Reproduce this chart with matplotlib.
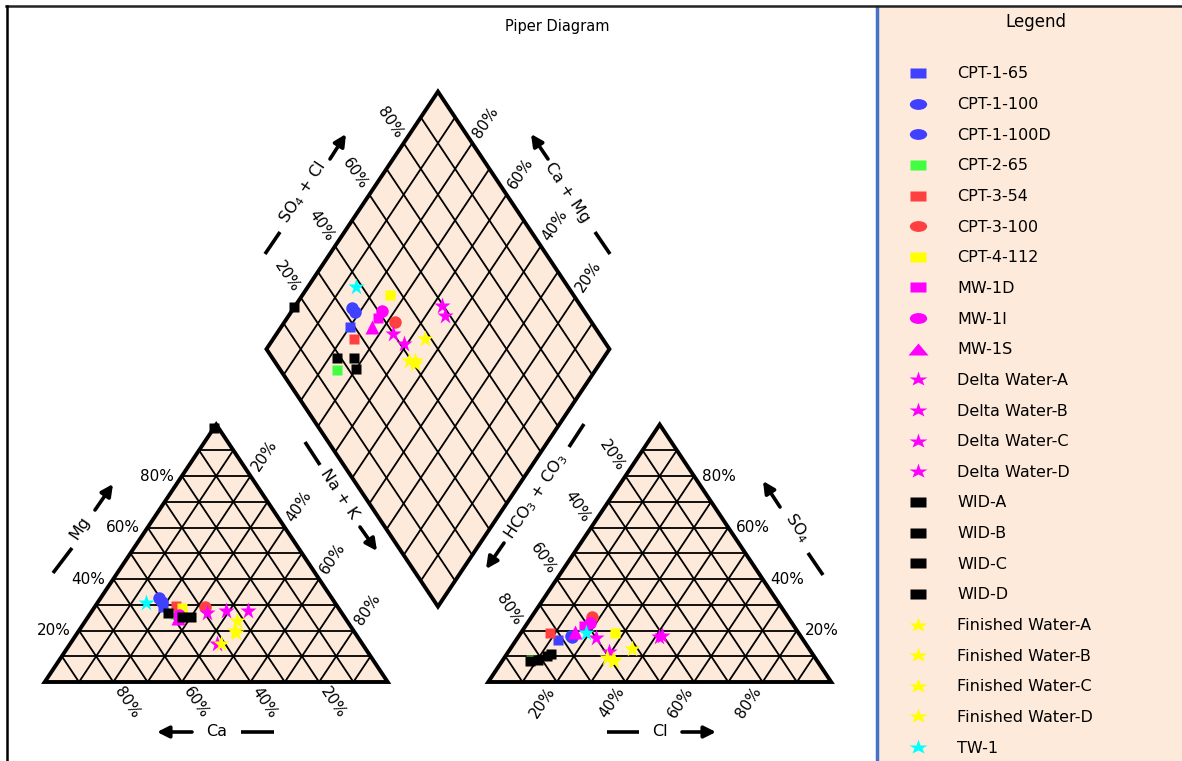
import numpy as np
import matplotlib
matplotlib.use("Agg")
import matplotlib.pyplot as plt
from matplotlib.markers import MarkerStyle
from matplotlib.transforms import Affine2D
from matplotlib.patches import Polygon, Rectangle

# ---- data (percent) ----
samples = ['CPT-1-65', 'CPT-1-100', 'CPT-1-100D', 'CPT-2-65', 'CPT-3-54',
           'CPT-3-100', 'CPT-4-112', 'MW-1D', 'MW-1I', 'MW-1S',
           'Delta Water-A', 'Delta Water-B', 'Delta Water-C', 'Delta Water-D',
           'WID-A', 'WID-B', 'WID-C', 'WID-D',
           'Finished Water-A', 'Finished Water-B', 'Finished Water-C',
           'Finished Water-D', 'TW-1']
colors = ['#4040FF', '#4040FF', '#4040FF', '#40FF40', '#FF4040', '#FF4040',
          '#FFFF00', '#FF00FF', '#FF00FF', '#FF00FF',
          '#FF00FF', '#FF00FF', '#FF00FF', '#FF00FF',
          '#000000', '#000000', '#000000', '#000000',
          '#FFFF00', '#FFFF00', '#FFFF00', '#FFFF00', '#00FFFF']
markers = ['s', 'o', 'o', 's', 's', 'o', 's', 's', 'o', '^',
           '*', '*', '*', '*', 's', 's', 's', 's', '*', '*', '*', '*', '*']

mg = [29.1, 32.5, 31.0, 26.5, 29.5, 29.1, 28.6, 24.7, 26.0, 25.0,
      26.7, 27.6, 14.6, 27.7, 98.6, 26.7, 25.2, 25.2, 23.7, 14.6, 19.8, 19.0, 30.8]
nak = [20.0, 17.0, 18.7, 24.7, 23.6, 32.2, 25.6, 26.7, 26.3, 26.5,
       34.0, 39.2, 43.0, 45.5, 0.0, 22.5, 30.0, 27.3, 44.3, 44.0, 45.6, 46.2, 14.0]
so4 = [16.3, 18.0, 17.5, 8.4, 19.1, 25.4, 18.9, 21.6, 22.8, 19.5,
       17.0, 11.8, 17.8, 17.5, 8.2, 8.5, 10.0, 10.7, 12.8, 9.2, 8.3, 8.6, 19.1]
cl = [12.3, 15.0, 15.7, 8.3, 8.4, 17.5, 27.6, 17.0, 18.3, 15.6,
      22.9, 29.2, 41.8, 41.0, 8.0, 10.4, 12.2, 13.0, 35.4, 30.0, 32.6, 32.0, 18.9]

ticks = [20, 40, 60, 80]

# ---- geometry ----
W, H = 1182, 761
SX, SY = 343.0, 297.3          # pixels per unit
OX, OY = 44.7, 682.0           # pixel position of origin
h = np.sqrt(3) / 2
g = 0.293
ANG = np.degrees(np.arctan2(h * SY, 0.5 * SX))
peach = '#FDEADA'


def cat_xy(m, n):
    return n + m / 2, h * m


def an_xy(s, c):
    return 1 + g + c + s / 2, h * s


def dia_xy(n, a):
    return 1 + g / 2 - 0.5 * (1 - n) + 0.5 * a, h * (g + 1 - n + a)


fig = plt.figure(figsize=(W / 100, H / 100), dpi=100)

# background axes in pixel units: frame, title, legend, axis names
bg = fig.add_axes([0, 0, 1, 1])
bg.set_xlim(0, W)
bg.set_ylim(H, 0)
bg.axis('off')
bg.add_patch(Rectangle((878, 7), W - 878, H - 7, facecolor=peach, edgecolor='none'))
bg.plot([877, 877], [7, H], color='#4472C4', lw=2.5)
bg.plot([6, W], [6, 6], color='#222222', lw=1.8)
bg.plot([7, 7], [6, H], color='k', lw=1.8)
bg.text(557, 26, 'Piper Diagram', ha='center', va='center', fontsize=10.5)
bg.text(1036, 22, 'Legend', ha='center', va='center', fontsize=12)

ax = fig.add_axes([0, 0, 1, 1], facecolor='none')
ax.set_xlim(-OX / SX, (W - OX) / SX)
ax.set_ylim(-(H - OY) / SY, OY / SY)
ax.axis('off')

# fields
fields = [
    [cat_xy(0, 0), cat_xy(0, 1), cat_xy(1, 0)],
    [an_xy(0, 0), an_xy(0, 1), an_xy(1, 0)],
    [dia_xy(0, 0), dia_xy(1, 0), dia_xy(1, 1), dia_xy(0, 1)],
]
for pts in fields:
    ax.add_patch(Polygon(pts, closed=True, facecolor=peach, edgecolor='none', zorder=2))
    ax.add_patch(Polygon(pts, closed=True, facecolor='none', edgecolor='k',
                         lw=2.8, zorder=4, joinstyle='miter'))

glw = 1.3
for i in range(1, 10):
    f = i / 10
    segs = [
        (cat_xy(f, 0), cat_xy(f, 1 - f)),
        (cat_xy(0, f), cat_xy(1 - f, f)),
        (cat_xy(0, 1 - f), cat_xy(1 - f, 0)),
        (an_xy(f, 0), an_xy(f, 1 - f)),
        (an_xy(0, f), an_xy(1 - f, f)),
        (an_xy(0, 1 - f), an_xy(1 - f, 0)),
        (dia_xy(f, 0), dia_xy(f, 1)),
        (dia_xy(0, f), dia_xy(1, f)),
    ]
    for p, q in segs:
        ax.plot([p[0], q[0]], [p[1], q[1]], color='k', lw=glw, zorder=3)

# tick labels
ux, uy = 0.554 * 8, 0.832 * 8
tk = dict(textcoords='offset pixels', fontsize=11, rotation_mode='anchor', va='center')
for t in ticks:
    f = t / 100
    lab = f'{t}%'
    ax.annotate(lab, cat_xy(f, 0), xytext=(-8, 0), ha='right', **tk)
    ax.annotate(lab, cat_xy(1 - f, f), xytext=(ux, uy), ha='left', rotation=ANG, **tk)
    ax.annotate(lab, cat_xy(0, 1 - f), xytext=(ux, -uy), ha='left', rotation=-ANG, **tk)
    ax.annotate(lab, an_xy(1 - f, 0), xytext=(-ux, uy), ha='right', rotation=-ANG, **tk)
    ax.annotate(lab, an_xy(0, f), xytext=(-ux, -uy), ha='right', rotation=ANG, **tk)
    ax.annotate(lab, an_xy(f, 1 - f), xytext=(8, 0), ha='left', **tk)
    ax.annotate(lab, dia_xy(0, f), xytext=(-ux, uy), ha='right', rotation=-ANG, **tk)
    ax.annotate(lab, dia_xy(1 - f, 1), xytext=(ux, uy), ha='left', rotation=ANG, **tk)

# axis names: dash, text, arrow (pixel coordinates)
alw = 2.6


def axis_name(text, pos, rot, dash, arrow):
    bg.plot([dash[0][0], dash[1][0]], [dash[0][1], dash[1][1]], color='k', lw=alw,
            solid_capstyle='butt')
    bg.text(pos[0], pos[1], text, rotation=rot, ha='center', va='center',
            fontsize=11.5, rotation_mode='anchor')
    bg.annotate('', xy=arrow[1], xytext=arrow[0],
                arrowprops=dict(arrowstyle='-|>,head_length=0.7,head_width=0.35',
                                lw=alw, color='k', shrinkA=0, shrinkB=0))


axis_name('Mg', (80, 528), ANG, ((53, 573), (72, 548)), ((95, 510), (113, 484)))
axis_name('Ca', (217, 731), 0, ((241, 732), (274, 732)), ((192, 732), (157, 732)))
axis_name('Na + K', (339, 494), -ANG, ((305, 442), (320, 465)), ((360, 527), (377, 551)))
axis_name(r'HCO$_3$ + CO$_3$', (536, 497), ANG, ((584, 424), (569, 447)),
          ((504, 543), (486, 569)))
axis_name(r'SO$_4$', (797, 528), -ANG, ((808, 553), (823, 575)), ((780, 507), (763, 481)))
axis_name('Cl', (660, 731), 0, ((607, 732), (639, 732)), ((682, 732), (716, 732)))
axis_name(r'SO$_4$ + Cl', (303, 193), ANG, ((265, 254), (280, 232)), ((330, 159), (346, 134)))
axis_name('Ca + Mg', (567, 193), -ANG, ((595, 232), (610, 254)), ((548, 159), (531, 134)))

# samples
msize = {'s': 7.8, 'o': 9, '^': 9.5, '*': 12.5}
for i, name in enumerate(samples):
    m, n = mg[i] / 100, nak[i] / 100
    s, c = so4[i] / 100, cl[i] / 100
    kw = dict(marker=markers[i], ms=msize[markers[i]], color=colors[i],
              mec='none', ls='none', zorder=5 + i * 0.01)
    ax.plot(*cat_xy(m, n), **kw)
    ax.plot(*an_xy(s, c), **kw)
    ax.plot(*dia_xy(n, s + c), **kw)

# legend
lsize = {'s': 7, 'o': 7.8, '^': 8.2, '*': 11}
lstretch = {'s': 1.65, 'o': 1.6, '^': 1.7, '*': 1.3}
y0, dy = 73, 30.64
for i, name in enumerate(samples):
    y = y0 + i * dy
    mk = MarkerStyle(markers[i], transform=Affine2D().scale(lstretch[markers[i]], 1))
    bg.plot(918, y, marker=mk, ms=lsize[markers[i]], color=colors[i], mec='none', ls='none')
    bg.text(957, y + 1, name, ha='left', va='center', fontsize=11.5)

fig.savefig('out.png', dpi=100)
